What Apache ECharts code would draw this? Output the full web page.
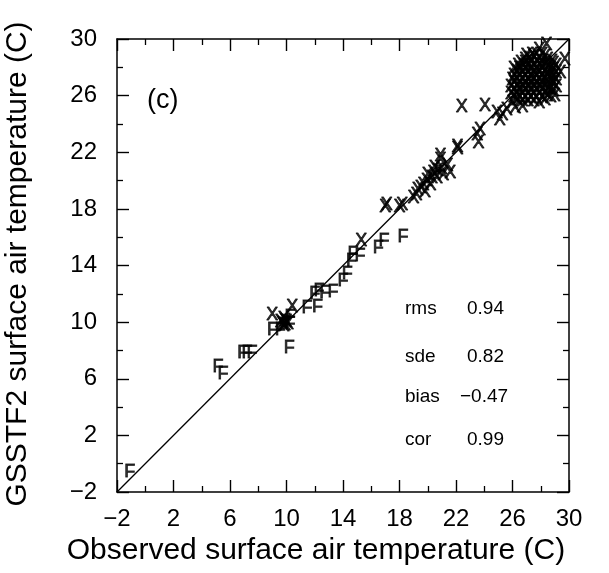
<!DOCTYPE html>
<html>
<head>
<meta charset="utf-8">
<script src="https://cdn.jsdelivr.net/npm/echarts@6/dist/echarts.min.js"></script>
<style>
  html, body { margin: 0; padding: 0; background: #fff; }
  #chart { width: 609px; height: 573px; }
</style>
</head>
<body>
<div id="chart"></div>
<script>
// observed vs GSSTF2, points marked "X"
const crossPts = [
  [9.0, 10.5], [10.4, 11.1], [9.6, 10.0], [9.9, 9.8], [9.8, 10.2], [10.0, 10.0],
  [9.7, 9.9], [9.9, 10.1], [10.1, 9.9], [9.8, 9.7],
  [15.3, 15.7],
  [17.0, 18.1], [17.1, 18.3], [18.0, 18.1], [18.2, 18.3],
  [19.0, 18.8], [19.2, 19.0], [19.3, 19.3], [19.5, 19.5], [19.7, 19.7], [19.8, 19.2], [19.95, 20.0],
  [20.0, 20.4], [20.2, 19.7], [20.3, 20.2], [20.4, 20.5], [20.5, 20.9], [20.65, 20.2], [20.7, 20.7],
  [20.9, 21.45], [20.9, 21.7], [21.0, 20.8], [21.1, 20.4], [21.4, 21.0], [21.6, 20.5],
  [22.1, 22.2], [22.1, 22.4],
  [23.5, 23.2], [23.6, 22.65], [23.7, 23.6],
  [22.4, 25.2], [24.05, 25.3],
  [24.9, 24.8], [25.1, 24.3], [25.3, 24.6], [25.6, 25.0], [26.0, 25.5], [26.2, 25.1], [26.7, 25.2],
  // dense cluster
  [25.9, 26.1], [25.9, 26.6], [26.0, 27.1],
  [26.1, 25.9], [26.1, 26.4], [26.1, 26.9], [26.1, 27.4], [26.1, 27.9],
  [26.3, 25.7], [26.3, 26.2], [26.4, 26.7], [26.3, 27.2], [26.3, 27.7], [26.4, 28.1],
  [26.5, 25.8], [26.5, 26.4], [26.5, 26.9], [26.5, 27.4], [26.5, 27.9], [26.6, 28.3],
  [26.7, 25.6], [26.7, 26.1], [26.8, 26.6], [26.7, 27.1], [26.7, 27.6], [26.8, 28.1], [26.9, 28.5],
  [26.9, 25.8], [26.9, 26.4], [26.9, 26.9], [26.9, 27.4], [26.9, 27.9], [26.9, 28.3], [27.0, 28.8],
  [27.1, 25.6], [27.1, 26.1], [27.2, 26.6], [27.1, 27.1], [27.1, 27.6], [27.2, 28.1], [27.2, 28.6],
  [27.3, 25.8], [27.3, 26.4], [27.3, 26.9], [27.3, 27.4], [27.3, 27.9], [27.3, 28.4], [27.4, 28.9],
  [27.5, 25.6], [27.5, 26.1], [27.6, 26.6], [27.5, 27.1], [27.5, 27.6], [27.6, 28.1], [27.5, 28.7],
  [27.7, 25.8], [27.7, 26.4], [27.7, 26.9], [27.7, 27.4], [27.7, 27.9], [27.7, 28.4], [27.7, 28.9],
  [27.9, 25.5], [27.9, 26.1], [28.0, 26.6], [27.9, 27.1], [27.9, 27.6], [28.0, 28.1], [27.9, 28.6], [27.9, 29.2],
  [28.1, 25.8], [28.1, 26.4], [28.1, 26.9], [28.1, 27.4], [28.1, 27.9], [28.1, 28.4], [28.1, 28.9],
  [28.3, 25.7], [28.3, 26.2], [28.4, 26.7], [28.3, 27.2], [28.3, 27.7], [28.4, 28.2], [28.3, 28.7], [28.4, 29.6],
  [28.5, 26.0], [28.5, 26.5], [28.5, 27.0], [28.5, 27.5], [28.5, 28.0], [28.5, 28.5],
  [28.7, 25.9], [28.7, 26.4], [28.8, 26.9], [28.7, 27.4], [28.7, 27.9], [28.8, 28.4],
  [28.9, 26.3], [28.9, 26.8], [28.9, 27.3], [28.9, 27.8], [28.9, 28.2],
  [29.0, 26.0], [29.1, 26.6], [29.1, 27.1], [29.1, 27.6], [29.1, 28.1],
  [29.4, 27.6], [29.7, 28.5]
];

// points marked "F"
const fPts = [
  [-1.1, -0.6],
  [5.15, 6.8], [5.5, 6.3],
  [6.9, 7.8], [7.2, 7.8], [7.55, 7.8],
  [10.2, 8.2],
  [9.0, 9.45], [9.55, 9.45], [10.25, 9.9], [10.25, 10.35],
  [11.45, 11.0], [12.2, 11.1], [12.0, 12.0], [12.3, 12.2], [12.7, 12.05], [13.3, 12.1],
  [14.0, 12.9], [14.3, 13.4],
  [14.6, 14.3], [14.7, 14.8], [15.2, 14.7],
  [16.5, 15.2], [16.9, 15.7],
  [18.25, 16.0]
];

const oneToOne = [[-2, -2], [30, 30]];

const statNames = ['rms', 'sde', 'bias', 'cor'];
const statValues = ['0.94', '0.82', '\u22120.47', '0.99'];
const statRowsY = [309, 357, 397, 440];

const axisMin = -2, axisMax = 30, axisStep = 4;

const chart = echarts.init(document.getElementById('chart'));
const font = 'Liberation Sans, Arial, Helvetica, sans-serif';
const fmt = v => (v < 0 ? '\u2212' + Math.abs(v) : String(v));

function axis(pos, show) {
  return {
    type: 'value', position: pos, min: axisMin, max: axisMax, interval: axisStep,
    axisLine: { show: true, onZero: false, lineStyle: { color: '#000', width: 1.5 } },
    axisTick: { show: true, inside: true, length: 12, lineStyle: { color: '#000', width: 1.4 } },
    minorTick: { show: true, splitNumber: 2, length: 6, lineStyle: { color: '#000', width: 1.3 } },
    splitLine: { show: false },
    axisLabel: {
      show: show, fontFamily: font, fontSize: 24, color: '#000',
      margin: pos === 'left' ? 20 : 15, formatter: fmt
    }
  };
}

function markerLabel(txt) {
  return {
    show: true, position: 'inside', formatter: txt,
    fontFamily: font, fontSize: 18, color: '#000',
    textBorderColor: '#000', textBorderWidth: 0.8
  };
}

const graphics = [
  {
    type: 'text', left: 147, top: 87,
    style: { text: '(c)', font: '27px ' + font, fill: '#000' }
  },
  {
    type: 'text', x: 316, y: 551,
    style: { text: 'Observed surface air temperature (C)', font: '30px ' + font, fill: '#000',
      align: 'center', verticalAlign: 'middle' }
  },
  {
    type: 'text', x: 18, y: 264, rotation: Math.PI / 2,
    style: { text: 'GSSTF2 surface air temperature (C)', font: '30px ' + font, fill: '#000',
      align: 'center', verticalAlign: 'middle' }
  }
];
statNames.forEach((s, i) => {
  graphics.push({
    type: 'text', x: 405, y: statRowsY[i],
    style: { text: s, font: '19px ' + font, fill: '#000', verticalAlign: 'middle' }
  });
  graphics.push({
    type: 'text', x: statValues[i][0] === '\u2212' ? 460 : 467, y: statRowsY[i],
    style: { text: statValues[i], font: '19px ' + font, fill: '#000', verticalAlign: 'middle' }
  });
});

chart.setOption({
  animation: false,
  backgroundColor: '#fff',
  grid: { left: 117, right: 40, top: 39, bottom: 81 },
  xAxis: [axis('bottom', true), axis('top', false)],
  yAxis: [axis('left', true), axis('right', false)],
  graphic: graphics,
  series: [
    {
      type: 'line', data: oneToOne, symbol: 'none',
      lineStyle: { color: '#000', width: 1.3 }, z: 1
    },
    {
      type: 'scatter', data: crossPts, symbolSize: 1,
      itemStyle: { color: 'transparent' }, label: markerLabel('X'), z: 3
    },
    {
      type: 'scatter', data: fPts, symbolSize: 1,
      itemStyle: { color: 'transparent' }, label: markerLabel('F'), z: 3
    }
  ]
});
</script>
</body>
</html>
